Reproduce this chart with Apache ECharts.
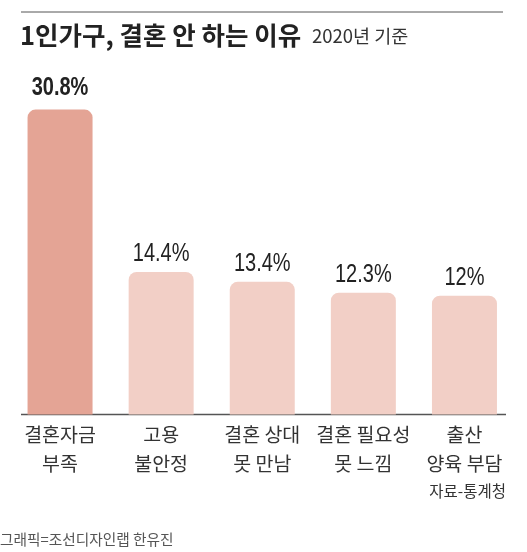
<!DOCTYPE html>
<html>
<head>
<meta charset="utf-8">
<script src="https://cdn.jsdelivr.net/npm/echarts@6/dist/echarts.min.js"></script>
<style>
html,body{margin:0;padding:0;background:#fff;}
#chart{width:527px;height:552px;}
</style>
</head>
<body>
<div id="chart"></div>
<script>
// 1인가구가 결혼하지 않는 이유 (2020년 기준, %)
var categories = ['결혼자금\n부족', '고용\n불안정', '결혼 상대\n못 만남', '결혼 필요성\n못 느낌', '출산\n양육 부담'];
var values = [30.8, 14.4, 13.4, 12.3, 12];
var valueLabels = ['30.8%', '14.4%', '13.4%', '12.3%', '12%'];

var hangulFont = '"Noto Sans CJK KR", "Noto Sans", sans-serif';
var numFont = '"Liberation Sans", sans-serif';

var myChart = echarts.init(document.getElementById('chart'));

var barData = values.map(function(v, i) {
	return {
		value: v,
		itemStyle: { color: i == 0 ? '#e4a495' : '#f2cfc6' }
	};
});

// 라벨은 좁은 글꼴처럼 보이도록 가로로 눌러서 그림
var labelData = values.map(function(v, i) { return [i, v]; });

function renderLabel(params, api) {
	var i = api.value(0);
	var pt = api.coord([i, api.value(1)]);
	var first = (i == 0);
	return {
		type: 'text',
		x: pt[0],
		y: pt[1] - (first ? 21 : 18),
		scaleX: 0.8,
		style: {
			text: valueLabels[i],
			font: (first ? 'bold ' : '') + '25px ' + numFont,
			fill: '#222',
			align: 'center',
			verticalAlign: 'middle'
		}
	};
}

var option = {
	animation: false,
	backgroundColor: '#fff',
	grid: { left: 9.5, width: 505.5, top: 18.5, bottom: 137.5 },
	xAxis: {
		type: 'category',
		data: categories,
		axisLine: { show: false },
		axisTick: { show: false },
		axisLabel: {
			color: '#333',
			fontFamily: hangulFont,
			fontSize: 19.5,
			lineHeight: 29,
			margin: 6,
			interval: 0
		}
	},
	yAxis: {
		type: 'value',
		min: 0,
		max: 40,
		show: false,
		splitLine: { show: false }
	},
	series: [{
		type: 'bar',
		data: barData,
		barWidth: 65,
		itemStyle: { borderRadius: [8, 8, 0, 0] }
	}, {
		type: 'custom',
		data: labelData,
		renderItem: renderLabel,
		silent: true,
		z: 5
	}],
	graphic: [
		// 상단 구분선
		{ type: 'line', shape: { x1: 21, y1: 12, x2: 503, y2: 12 }, style: { stroke: '#555', lineWidth: 1 } },
		// 기준선
		{ type: 'line', shape: { x1: 21, y1: 414.5, x2: 506, y2: 414.5 }, style: { stroke: '#555', lineWidth: 1.5 } },
		{ type: 'text', left: 20, top: 23, style: { text: '1인가구, 결혼 안 하는 이유', font: 'bold 25.5px ' + hangulFont, fill: '#222' } },
		{ type: 'text', left: 312, top: 27, style: { text: '2020년 기준', font: '18.5px ' + hangulFont, fill: '#333' } },
		{ type: 'text', right: 21, top: 483, style: { text: '자료-통계청', font: '15.5px ' + hangulFont, fill: '#333' } },
		{ type: 'text', left: 0, top: 532, style: { text: '그래픽=조선디자인랩 한유진', font: '14.7px ' + hangulFont, fill: '#555' } }
	]
};

myChart.setOption(option);
</script>
</body>
</html>
